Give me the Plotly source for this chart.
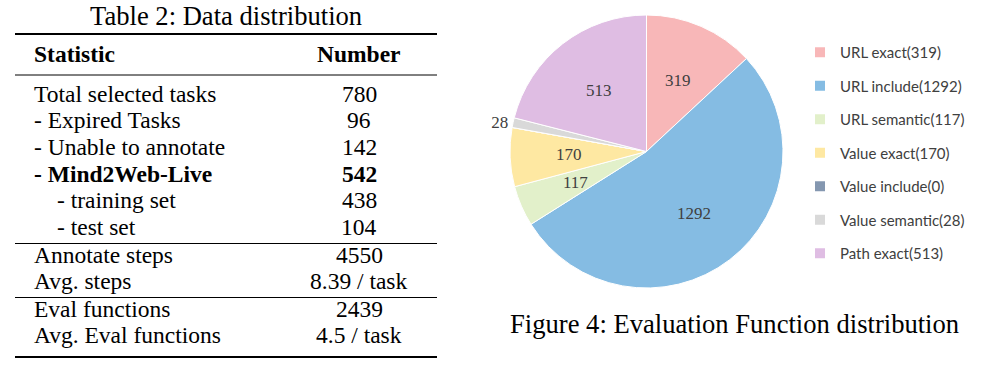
import math
import plotly.graph_objects as go

W, H = 984, 368

# ---------------- data ----------------
table_title = "Table 2: Data distribution"
table_header = ["Statistic", "Number"]
table_stats = ["Total selected tasks", "- Expired Tasks", "- Unable to annotate",
               "- Mind2Web-Live", "- training set", "- test set",
               "Annotate steps", "Avg. steps", "Eval functions", "Avg. Eval functions"]
table_values = ["780", "96", "142", "542", "438", "104",
                "4550", "8.39 / task", "2439", "4.5 / task"]

pie_labels = ["URL exact", "URL include", "URL semantic", "Value exact",
              "Value include", "Value semantic", "Path exact"]
pie_values = [319, 1292, 117, 170, 0, 28, 513]
caption = "Figure 4: Evaluation Function distribution"

# ---------------- style ----------------
pie_colors = ["#F8B7B8", "#85BCE3", "#E2F0CA", "#FEE8A2", "#8497B0", "#D9D9D9", "#DFBDE3"]
row_bold = [False, False, False, True, False, False, False, False, False, False]
row_indent = [0, 0, 0, 0, 1, 1, 0, 0, 0, 0]
row_baseline = [101.7, 128.3, 155, 181.7, 208.3, 235, 262.7, 289.3, 316.7, 343.3]
SERIF = "Liberation Serif, Times New Roman, serif"
BODY = 23.5
BIG = 26.6
PIE_CX, PIE_CY, PIE_R = 646.5, 151.5, 136.5
LABEL_FRAC = 0.57


def py(v):
    return 1 - v / H


def px(v):
    return v / W


fig = go.Figure()

total = sum(pie_values)
small = [0 < v / total < 0.02 for v in pie_values]
pie_text = [str(v) if s else "" for v, s in zip(pie_values, small)]
text_pos = ["outside" if s else "none" for s in small]
fig.add_trace(go.Pie(
    labels=pie_labels, values=pie_values, sort=False, direction="clockwise", rotation=0,
    marker=dict(colors=pie_colors, line=dict(color="white", width=1)),
    text=pie_text, textinfo="text", textposition=text_pos,
    textfont=dict(family=SERIF, size=17, color="#404040"),
    showlegend=False, hoverinfo="label+value",
    domain=dict(x=[px(PIE_CX - PIE_R), px(PIE_CX + PIE_R)],
                y=[py(PIE_CY + PIE_R), py(PIE_CY - PIE_R)]),
))

# legend entries (one per category)
for lab, val, col in zip(pie_labels, pie_values, pie_colors):
    fig.add_trace(go.Scatter(
        x=[None], y=[None], mode="markers", name=f"{lab}({val})",
        marker=dict(symbol="square", size=10, color=col),
        legendgroup=lab, showlegend=True, hoverinfo="skip",
    ))

ann = []
# slice value labels, placed at the middle angle of each slice
cum = 0
for v, s in zip(pie_values, small):
    mid = (cum + v / 2) / total * 2 * math.pi
    cum += v
    if v == 0 or s:
        continue
    lx = PIE_CX + LABEL_FRAC * PIE_R * math.sin(mid)
    ly = PIE_CY - LABEL_FRAC * PIE_R * math.cos(mid)
    ann.append(dict(text=str(v), x=px(lx), y=py(ly), xanchor="center", yanchor="middle",
                    font=dict(family=SERIF, size=17, color="#404040")))

# table title
ann.append(dict(text=table_title, x=px(226), y=py(25 - 0.3375 * BIG), xanchor="center",
                yanchor="middle", font=dict(family=SERIF, size=BIG, color="black")))
# header
ann.append(dict(text=f"<b>{table_header[0]}</b>", x=px(31.5), y=py(61.7 - 0.3375 * BODY),
                xanchor="left", yanchor="middle", font=dict(family=SERIF, size=BODY, color="black")))
ann.append(dict(text=f"<b>{table_header[1]}</b>", x=px(359), y=py(61.7 - 0.3375 * BODY),
                xanchor="center", yanchor="middle", font=dict(family=SERIF, size=BODY, color="black")))
for s, v, b, ind, bl in zip(table_stats, table_values, row_bold, row_indent, row_baseline):
    st = f"<b>{s}</b>" if b else s
    vt = f"<b>{v}</b>" if b else v
    ann.append(dict(text=st, x=px(31.5 + 23.5 * ind), y=py(bl - 0.3375 * BODY), xanchor="left",
                    yanchor="middle", font=dict(family=SERIF, size=BODY, color="black")))
    ann.append(dict(text=vt, x=px(359), y=py(bl - 0.3375 * BODY), xanchor="center",
                    yanchor="middle", font=dict(family=SERIF, size=BODY, color="black")))
# caption
ann.append(dict(text=caption, x=px(734), y=py(333 - 0.3375 * BIG), xanchor="center",
                yanchor="middle", font=dict(family=SERIF, size=BIG, color="black")))
for a in ann:
    a.update(xref="paper", yref="paper", showarrow=False)

shapes = []
for yv, wd in [(34, 2), (75, 1), (243.5, 1), (297.5, 1), (357, 2)]:
    shapes.append(dict(type="line", xref="paper", yref="paper", x0=px(15), x1=px(437),
                       y0=py(yv), y1=py(yv), line=dict(color="black", width=wd)))

fig.update_layout(
    width=W, height=H, margin=dict(l=0, r=0, t=0, b=0),
    paper_bgcolor="white", plot_bgcolor="white",
    annotations=ann, shapes=shapes,
    xaxis=dict(visible=False, domain=[0, 0.01]), yaxis=dict(visible=False, domain=[0, 0.01]),
    legend=dict(x=px(800), y=py(36), xanchor="left", yanchor="top", tracegroupgap=11,
                font=dict(family="Lato, sans-serif", size=15, color="#404040"),
                bgcolor="rgba(0,0,0,0)", itemclick=False, itemdoubleclick=False),
)

fig.write_html("out.html", config={"displayModeBar": False},
               post_script="document.body.style.margin='0';")
